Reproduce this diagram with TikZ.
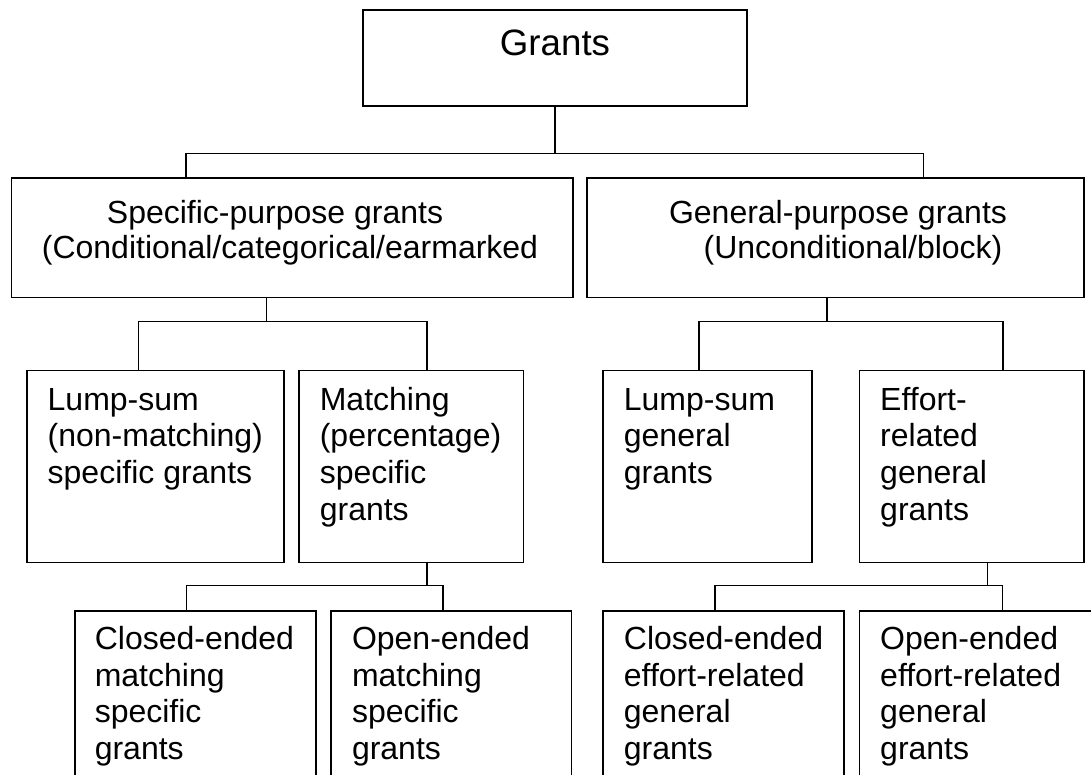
\documentclass[tikz,border=0pt]{standalone}
\usepackage{fontspec}
\setmainfont{Liberation Sans}
\newcommand\mylstack[2]{\vtop{\baselineskip=#1\lineskiplimit=-100pt\lineskip=0pt\halign{##\hfil\cr#2\crcr}}}
\newcommand\mycstack[2]{\vtop{\baselineskip=#1\lineskiplimit=-100pt\lineskip=0pt\halign{\hfil##\hfil\cr#2\crcr}}}
\begin{document}
\begin{tikzpicture}[x=1pt,y=-1pt,
  box/.style={draw, rectangle, line width=1.6pt, inner sep=0pt, anchor=north west},
  conn/.style={line width=1.4pt},
  txt/.style={inner sep=0pt, font=\fontsize{32}{36.7}\selectfont},
  bigtxt/.style={inner sep=0pt, font=\fontsize{36.7}{40}\selectfont}]
\useasboundingbox (0,0) rectangle (1091,774);
\fill[white] (0,0) rectangle (1091,774);
\clip (0,0) rectangle (1091,774);

% boxes
\node[box, minimum width=384pt, minimum height=96pt] (grants) at (362.3,9.3) {};
\node[box, minimum width=561.2pt, minimum height=119.4pt] (sp) at (10.7,177.3) {};
\node[box, minimum width=496.6pt, minimum height=119.4pt] (gp) at (586.4,177.3) {};
\node[box, minimum width=257.1pt, minimum height=192pt] (lss) at (26.1,369.7) {};
\node[box, minimum width=224.3pt, minimum height=192pt] (mat) at (298.2,369.7) {};
\node[box, minimum width=208.7pt, minimum height=192pt] (lsg) at (602.3,369.7) {};
\node[box, minimum width=224.5pt, minimum height=192pt] (eff) at (858.7,369.7) {};
\node[box, minimum width=240.7pt, minimum height=200pt] (cem) at (74.3,610) {};
\node[box, minimum width=240.4pt, minimum height=200pt] (oem) at (330.4,610) {};
\node[box, minimum width=240.8pt, minimum height=200pt] (cee) at (602.3,610) {};
\node[box, minimum width=250pt, minimum height=200pt] (oee) at (858.7,610) {};

% texts
\node[bigtxt, anchor=base] (tgrants) at (555,55) {Grants};
\node[txt, anchor=base] (tsp) at (290,223.7) {\mycstack{34.6pt}{Specific-purpose grants\kern30pt\cr(Conditional/categorical/earmarked}};
\node[txt, anchor=base] (tgp) at (853,223.7) {\mycstack{34.6pt}{General-purpose grants\kern30pt\cr(Unconditional/block)}};
\node[txt, anchor=base west] (tlss) at (47.5,410) {\mylstack{36.7pt}{Lump-sum\cr(non-matching)\cr specific grants}};
\node[txt, anchor=base west] (tmat) at (319.6,410) {\mylstack{36.7pt}{Matching\cr(percentage)\cr specific\cr grants}};
\node[txt, anchor=base west] (tlsg) at (623.7,410) {\mylstack{36.7pt}{Lump-sum\cr general\cr grants}};
\node[txt, anchor=base west] (teff) at (880,410) {\mylstack{36.7pt}{Effort-\cr related\cr general\cr grants}};
\node[txt, anchor=base west] (tcem) at (94.6,649.3) {\mylstack{36.7pt}{Closed-ended\cr matching\cr specific\cr grants}};
\node[txt, anchor=base west] (toem) at (351.8,649.3) {\mylstack{36.7pt}{Open-ended\cr matching\cr specific\cr grants}};
\node[txt, anchor=base west] (tcee) at (623.7,649.3) {\mylstack{36.7pt}{Closed-ended\cr effort-related\cr general\cr grants}};
\node[txt, anchor=base west] (toee) at (880,649.3) {\mylstack{36.7pt}{Open-ended\cr effort-related\cr general\cr grants}};

% junction coordinates
\coordinate (j1l) at (186,153.3);
\coordinate (j1r) at (923.3,153.3);
\coordinate (t2) at (266.4,321.7);
\coordinate (j2l) at (138.6,321.7);
\coordinate (j2r) at (426.8,321.7);
\coordinate (t3) at (826.8,321.7);
\coordinate (j3l) at (698.8,321.7);
\coordinate (j3r) at (1003,321.7);
\coordinate (t4) at (426.8,585.7);
\coordinate (j4l) at (186.4,585.7);
\coordinate (j4r) at (442.9,585.7);
\coordinate (t5) at (987.4,585.7);
\coordinate (j5l) at (714.8,585.7);
\coordinate (j5r) at (1002.6,585.7);

% connectors
\draw[conn] (grants.south) -- (grants.south |- j1l);
\draw[conn] (j1l |- sp.north) -- (j1l) -- (j1r) -- (j1r |- gp.north);
\draw[conn] (t2 |- sp.south) -- (t2);
\draw[conn] (j2l |- lss.north) -- (j2l) -- (j2r) -- (j2r |- mat.north);
\draw[conn] (t3 |- gp.south) -- (t3);
\draw[conn] (j3l |- lsg.north) -- (j3l) -- (j3r) -- (j3r |- eff.north);
\draw[conn] (t4 |- mat.south) -- (t4);
\draw[conn] (j4l |- cem.north) -- (j4l) -- (j4r) -- (j4r |- oem.north);
\draw[conn] (t5 |- eff.south) -- (t5);
\draw[conn] (j5l |- cee.north) -- (j5l) -- (j5r) -- (j5r |- oee.north);
\end{tikzpicture}
\end{document}
